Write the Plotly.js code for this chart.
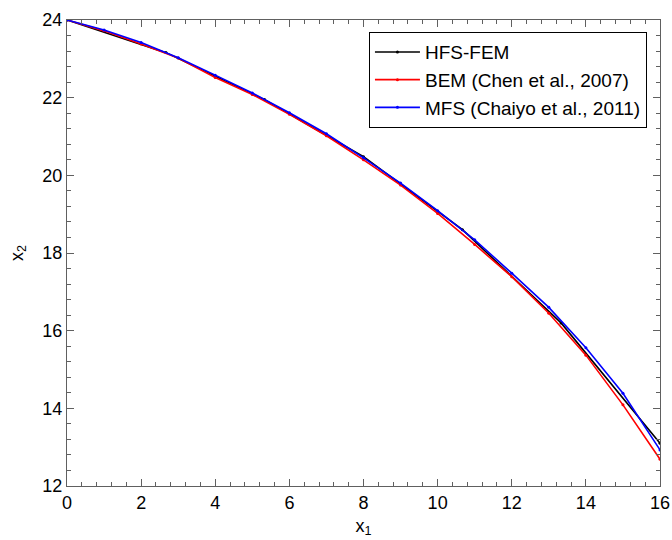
<!DOCTYPE html>
<html>
<head>
<meta charset="utf-8">
<script src="https://cdn.plot.ly/plotly-3.0.1.min.js"></script>
<style>html,body{margin:0;padding:0;background:#fff}</style>
</head>
<body>
<div id="chart" style="width:672px;height:540px"></div>
<script>
const hfsX = [0, 2.67, 5.33, 8, 10.67, 13.33, 16];
const hfsY = [24, 23.16, 21.95, 20.48, 18.6, 16.2, 13.1];
const bemX = [0, 1, 2, 3, 4, 5, 6, 7, 8, 9, 10, 11, 12, 13, 14, 15, 16];
const bemY = [24, 23.72, 23.38, 23.02, 22.52, 22.08, 21.57, 21.02, 20.4, 19.75, 19.02, 18.22, 17.39, 16.45, 15.37, 14.09, 12.69];
const mfsX = [0, 1, 2, 3, 4, 5, 6, 7, 8, 9, 10, 11, 12, 13, 14, 15, 16];
const mfsY = [24, 23.74, 23.42, 23.03, 22.58, 22.12, 21.61, 21.07, 20.45, 19.8, 19.09, 18.34, 17.48, 16.6, 15.56, 14.39, 12.93];
const names = ["HFS-FEM", "BEM (Chen et al., 2007)", "MFS (Chaiyo et al., 2011)"];
const colors = ["#000000", "#ff0000", "#0000ff"];

const series = [[hfsX, hfsY], [bemX, bemY], [mfsX, mfsY]];
const traces = series.map((s, i) => ({
  x: s[0], y: s[1], name: names[i], type: "scatter", mode: "lines+markers",
  line: {color: colors[i], width: 1.6},
  marker: {color: colors[i], size: 3}
}));
// invisible helper trace so the minor-tick overlay axes are drawn
traces.unshift({
  x: mfsX, y: mfsY, xaxis: "x2", yaxis: "y2", type: "scatter", mode: "lines",
  line: {width: 0, color: "rgba(0,0,0,0)"}, showlegend: false, hoverinfo: "skip"
});

const FONT = "Liberation Sans, Arial, sans-serif";
const TICKC = "#606060";
function axis(extra) {
  return Object.assign({
    showgrid: false, zeroline: false, showline: true, linecolor: TICKC, linewidth: 1,
    mirror: "ticks", ticks: "inside", ticklen: 7, tickcolor: TICKC, tickwidth: 1,
    tickfont: {family: FONT, size: 18, color: "#000"}
  }, extra);
}
function minorAxis(extra) {
  return Object.assign({
    showgrid: false, zeroline: false, showline: false, showticklabels: false,
    mirror: "ticks", ticks: "inside", ticklen: 4, tickcolor: TICKC, tickwidth: 1
  }, extra);
}

const layout = {
  width: 672, height: 540,
  margin: {l: 67, r: 12, t: 20, b: 54},
  paper_bgcolor: "#fff", plot_bgcolor: "#fff",
  font: {family: FONT, color: "#000"},
  xaxis: axis({
    range: [0, 16], dtick: 2, tick0: 0,
    title: {text: "x<sub>1</sub>", font: {size: 18}, standoff: 7}
  }),
  yaxis: axis({
    range: [12, 24], dtick: 2, tick0: 12,
    title: {text: "x<sub>2</sub>", font: {size: 18}, standoff: 14}
  }),
  xaxis2: minorAxis({range: [0, 16], dtick: 0.4, tick0: 0, overlaying: "x", anchor: "y2"}),
  yaxis2: minorAxis({range: [12, 24], dtick: 0.4, tick0: 12, overlaying: "y", anchor: "x2"}),
  legend: {
    x: 0.978, y: 0.974, xanchor: "right", yanchor: "top",
    bgcolor: "#fff", bordercolor: "#000", borderwidth: 1,
    font: {size: 19, family: FONT, color: "#000"},
    itemwidth: 45, tracegroupgap: 0
  },
  showlegend: true
};

Plotly.newPlot("chart", traces, layout, {displayModeBar: false});
</script>
</body>
</html>
